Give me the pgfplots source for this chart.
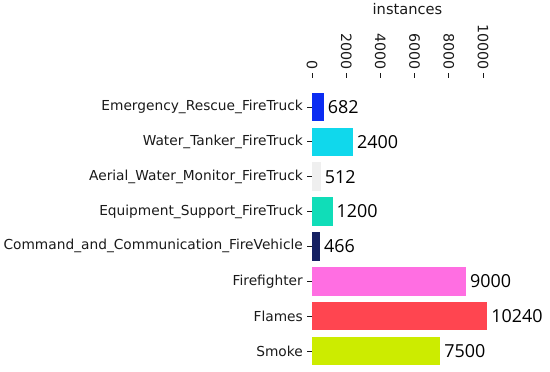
\documentclass[border=0pt]{standalone}
\usepackage{pgfplots}
\pgfplotsset{compat=1.18}
\usepackage{fontspec}
\setmainfont{DejaVu Sans}
\newfontfamily\valfont{Open Sans}
\definecolor{c1}{HTML}{0B2CF2}
\definecolor{c2}{HTML}{10D8EC}
\definecolor{c3}{HTML}{EFEFEF}
\definecolor{c4}{HTML}{10DDB8}
\definecolor{c5}{HTML}{152062}
\definecolor{c6}{HTML}{FF6EE2}
\definecolor{c7}{HTML}{FF4550}
\definecolor{c8}{HTML}{CCEC00}
\definecolor{txt}{HTML}{1A1A1A}
\begin{document}
\begin{tikzpicture}
\useasboundingbox (-312bp,-3.6bp) rectangle (238bp,368.4bp);
\begin{axis}[
  at={(0,0)}, anchor=south west,
  scale only axis,
  width=191bp, height=290.4bp,
  xbar, bar width=0.82, bar shift=0pt,
  y dir=reverse,
  xmin=0, xmax=11170,
  ymin=-0.83, ymax=7.5,
  axis line style={draw=none},
  xtick={0,2000,4000,6000,8000,10000},
  xtick pos=right, xticklabel pos=right,
  ytick={0,1,2,3,4,5,6,7},
  ytick pos=left,
  yticklabels={Emergency\_Rescue\_FireTruck,Water\_Tanker\_FireTruck,Aerial\_Water\_Monitor\_FireTruck,Equipment\_Support\_FireTruck,Command\_and\_Communication\_FireVehicle,Firefighter,Flames,Smoke},
  tick align=outside,
  major tick length=4.5bp,
  tick style={color=txt, line width=0.6pt},
  scaled ticks=false,
  /pgf/number format/.cd, 1000 sep={}, assume math mode=true, /pgfplots/.cd,
  xticklabel style={rotate=-90, anchor=east, font=\fontsize{14.3}{16}\selectfont, text=txt, inner sep=3.5pt},
  yticklabel style={font=\fontsize{13.8}{16}\selectfont, text=txt, inner sep=4.5pt},
  xlabel={instances},
  xlabel style={at={(axis description cs:0.5,1)}, anchor=center, yshift=68.5bp, font=\fontsize{14.7}{17}\selectfont, text=txt},
  nodes near coords,
  every node near coord/.append style={anchor=west, inner sep=4pt, font=\valfont\fontsize{18}{20}\selectfont, text=black},
]
\addplot[fill=c1, draw=none] coordinates {(682,0)};
\addplot[fill=c2, draw=none] coordinates {(2400,1)};
\addplot[fill=c3, draw=none] coordinates {(512,2)};
\addplot[fill=c4, draw=none] coordinates {(1200,3)};
\addplot[fill=c5, draw=none] coordinates {(466,4)};
\addplot[fill=c6, draw=none] coordinates {(9000,5)};
\addplot[fill=c7, draw=none] coordinates {(10240,6)};
\addplot[fill=c8, draw=none] coordinates {(7500,7)};
\end{axis}
\end{tikzpicture}
\end{document}
